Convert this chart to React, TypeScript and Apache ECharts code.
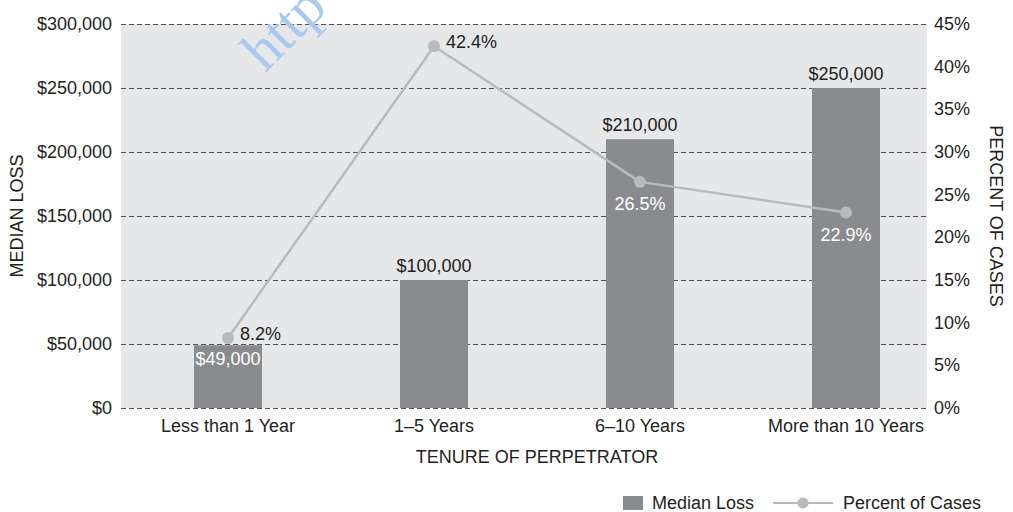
import React, { useEffect, useRef } from "react";
import * as echarts from "echarts";

const categories = ["Less than 1 Year", "1–5 Years", "6–10 Years", "More than 10 Years"];
const medianLoss = [49000, 100000, 210000, 250000];
const percentOfCases = [8.2, 42.4, 26.5, 22.9];
const lossTicks = { min: 0, max: 300000, interval: 50000 };
const pctTicks = { min: 0, max: 45, interval: 5 };

const FONT = "'Liberation Sans', Arial, Helvetica, sans-serif";
const TXT = "#231f20";

function fmtMoney(v: number) {
  return "$" + v.toLocaleString("en-US");
}

export default function App() {
  const ref = useRef<HTMLDivElement>(null);
  useEffect(() => {
    document.body.style.margin = "0";
    const chart = echarts.init(ref.current!, null, { renderer: "svg" });
    const dash = { type: [5, 3] as any, color: "#555555", width: 1.2 };
    const option: any = {
      animation: false,
      textStyle: { fontFamily: FONT },
      grid: [
        { left: 118, right: 72, top: 24, bottom: 104, show: true, backgroundColor: "#e6e7e8", borderWidth: 0 },
        { left: 125, right: 64, top: 24, bottom: 104 },
      ],
      xAxis: [
        { type: "category", gridIndex: 0, data: categories, show: false },
        {
          type: "category",
          gridIndex: 1,
          data: categories,
          axisLine: { show: false },
          axisTick: { show: false },
          axisLabel: { color: TXT, fontSize: 18, margin: 9, fontFamily: FONT },
          name: "TENURE OF PERPETRATOR",
          nameLocation: "middle",
          nameGap: 40,
          nameTextStyle: { color: TXT, fontSize: 18, fontFamily: FONT },
        },
      ],
      yAxis: [
        {
          type: "value",
          gridIndex: 0,
          position: "left",
          ...lossTicks,
          axisLine: { show: false },
          axisTick: { show: false },
          splitLine: { show: true, lineStyle: dash },
          axisLabel: { color: TXT, fontSize: 18, margin: 9, formatter: (v: number) => fmtMoney(v), fontFamily: FONT },
          name: "MEDIAN LOSS",
          nameLocation: "middle",
          nameGap: 95,
          nameTextStyle: { color: TXT, fontSize: 18, fontFamily: FONT },
        },
        {
          type: "value",
          gridIndex: 0,
          position: "right",
          ...pctTicks,
          axisLine: { show: false },
          axisTick: { show: false },
          splitLine: { show: false },
          axisLabel: { color: TXT, fontSize: 18, margin: 7, formatter: "{value}%", fontFamily: FONT },
          name: "PERCENT OF CASES",
          nameLocation: "middle",
          nameRotate: -90,
          nameGap: 60,
          nameTextStyle: { color: TXT, fontSize: 18, fontFamily: FONT },
        },
        { type: "value", gridIndex: 1, ...lossTicks, show: false },
        { type: "value", gridIndex: 1, ...pctTicks, show: false },
      ],
      legend: [
        {
          data: [{ name: "Median Loss", icon: "rect" }],
          left: 623,
          top: 494,
          itemWidth: 20,
          itemHeight: 14,
          padding: 0,
          textStyle: { color: TXT, fontSize: 18, fontFamily: FONT, padding: [0, 0, 0, 4] },
        },
        {
          data: ["Percent of Cases"],
          left: 772,
          top: 494,
          itemWidth: 60,
          itemHeight: 14,
          padding: 0,
          textStyle: { color: TXT, fontSize: 18, fontFamily: FONT, padding: [0, 0, 0, 5] },
        },
      ],
      series: [
        {
          name: "Median Loss",
          type: "bar",
          xAxisIndex: 1,
          yAxisIndex: 2,
          barWidth: 68,
          itemStyle: { color: "#8a8b8e" },
          data: medianLoss.map((v, i) => ({
            value: v,
            label:
              i === 0
                ? { position: "insideTop", distance: 5, color: "#ffffff" }
                : { position: "top", distance: 5, color: TXT },
          })),
          label: {
            show: true,
            fontSize: 18,
            fontFamily: FONT,
            formatter: (p: any) => fmtMoney(p.value),
          },
          z: 2,
        },
        {
          name: "Percent of Cases",
          type: "line",
          xAxisIndex: 1,
          yAxisIndex: 3,
          symbol: "circle",
          symbolSize: 12,
          lineStyle: { color: "#b9babc", width: 2.5 },
          itemStyle: { color: "#b9babc" },
          data: percentOfCases.map((v, i) => ({
            value: v,
            label:
              i < 2
                ? { position: "right", distance: 6, offset: [0, -4], color: TXT }
                : { position: "bottom", distance: 7, color: "#ffffff" },
          })),
          label: {
            show: true,
            fontSize: 18,
            fontFamily: FONT,
            formatter: (p: any) => p.value + "%",
          },
          z: 3,
        },
      ],
      graphic: [
        {
          type: "text",
          x: 272,
          y: 80,
          rotation: Math.PI / 4,
          z: 100,
          style: {
            text: "http",
            fontFamily: "'Liberation Serif', serif",
            fontSize: 58,
            fill: "#a9c9f1",
            textVerticalAlign: "bottom",
          },
        },
      ],
    };
    chart.setOption(option);
    return () => chart.dispose();
  }, []);
  return <div ref={ref} style={{ width: 1013, height: 512 }} />;
}
